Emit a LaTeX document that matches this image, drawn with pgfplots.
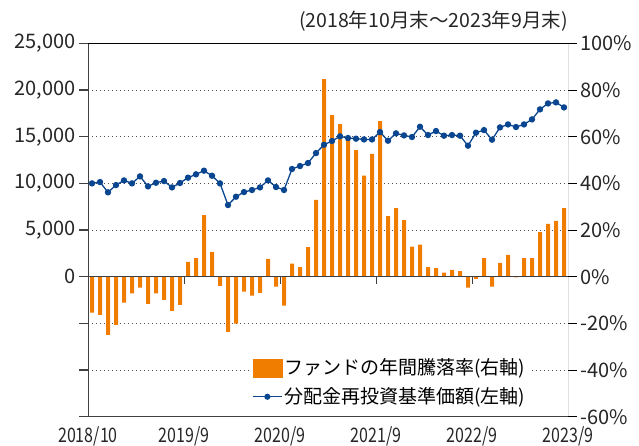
\documentclass[border=0pt]{standalone}
\usepackage{pgfplots}
\usepackage{pgfplotstable}
\pgfplotsset{compat=1.18}
\usepackage{fontspec}
\setmainfont{Noto Sans CJK JP}
\definecolor{barorange}{HTML}{F07D00}
\definecolor{lineblue}{HTML}{0A4690}
\definecolor{axgray}{HTML}{404040}
\pgfplotstableread{
i ret nav
0 -15.4 10000
1 -16.4 10140
2 -24.9 9040
3 -20.6 9820
4 -11.1 10320
5 -7.1 10000
6 -4.7 10750
7 -11.6 9680
8 -7.1 10070
9 -9.9 10250
10 -14.6 9570
11 -12.1 10040
12 6.4 10610
13 8.0 10970
14 26.4 11360
15 10.6 10820
16 -3.9 10000
17 -23.6 7680
18 -20.1 8570
19 -6.4 9070
20 -8.1 9290
21 -6.9 9570
22 7.6 10320
23 -4.3 9610
24 -12.4 9290
25 5.6 11540
26 4.1 11860
27 12.7 12180
28 32.9 13250
29 84.7 14140
30 69.3 14540
31 65.4 15040
32 58.6 14860
33 54.3 14790
34 43.3 14710
35 52.6 14710
36 66.7 15500
37 26.0 14570
38 29.4 15360
39 24.3 15140
40 12.9 14970
41 13.7 16070
42 4.1 15180
43 3.7 15610
44 1.7 15110
45 2.9 15180
46 2.4 15110
47 -4.7 14040
48 -0.9 15430
49 8.0 15710
50 -4.3 14680
51 5.9 16000
52 9.4 16320
53 -0.3 16040
54 8.0 16320
55 8.0 16860
56 19.1 17930
57 22.6 18570
58 23.9 18680
59 29.4 18140
}\data
\newcommand{\legA}{ファン\symbol{"30C9}の年間騰落率(右軸)}
\newcommand{\legB}{分配金再投資基準価額(左軸)}
\pgfplotsset{
  common/.style={
    at={(88pt,29.3pt)}, anchor=south west,
    scale only axis, width=480pt, height=373.3pt,
    xmin=-0.5, xmax=59.5,
    axis line style={draw=none},
    tick align=outside,
    major tick length=9pt,
    ticklabel style={font=\fontsize{20}{20}\selectfont, text=black!85},
    clip=true,
  }
}
\begin{document}
\begin{tikzpicture}
\useasboundingbox (0,0) rectangle (639pt,446pt);
% bars, right axis
\begin{axis}[common,
  ymin=-60, ymax=100,
  ytick={-60,-40,-20,0,20,40,60,80,100},
  yticklabels={-60\%,-40\%,-20\%,0\%,20\%,40\%,60\%,80\%,100\%},
  ytick pos=right, yticklabel pos=right,
  ytick style={black, line width=0.8pt},
  xtick={-0.5,11.5,23.5,35.5,47.5,59.5},
  xticklabels={2018/10,2019/9,2020/9,2021/9,2022/9,2023/9},
  xtick pos=bottom,
  xtick style={draw=none},
  xticklabel style={font=\fontsize{20}{20}\selectfont, xscale=0.8, yshift=3pt},
  ymajorgrids,
  grid style={black!70, line width=0.9pt, dash pattern=on 0.9pt off 3.1pt},
]
\addplot[ybar, bar width=4pt, fill=barorange, draw=none] table[x=i, y=ret]{\data};
\draw[axgray, line width=1.3pt] (axis cs:-0.5,0) -- (axis cs:59.5,0);
\draw[axgray, line width=0.9pt] (axis cs:11.5,0) -- ([yshift=-7pt]axis cs:11.5,0);
\draw[axgray, line width=0.9pt] (axis cs:23.5,0) -- ([yshift=-7pt]axis cs:23.5,0);
\draw[axgray, line width=0.9pt] (axis cs:35.5,0) -- ([yshift=-7pt]axis cs:35.5,0);
\draw[axgray, line width=0.9pt] (axis cs:47.5,0) -- ([yshift=-7pt]axis cs:47.5,0);
\end{axis}
% line, left axis
\begin{axis}[common,
  ymin=-15000, ymax=25000,
  scaled y ticks=false,
  ytick={-15000,-10000,-5000,0,5000,10000,15000,20000,25000},
  yticklabels={{},{},{},0,{5,000},{10,000},{15,000},{20,000},{25,000}},
  ytick pos=left, yticklabel pos=left,
  ytick style={axgray, line width=1.2pt},
  xtick=\empty,
  legend cell align=left,
  legend style={at={(0.3375,0.168)}, anchor=north west, draw=none, fill=white,
    font=\fontsize{19}{19}\selectfont, row sep=6pt, inner sep=2pt,
    nodes={inner sep=2pt, text depth=3pt}},
]
\addlegendimage{legend image code/.code={\fill[barorange] (0pt,-9pt) rectangle (29pt,9pt);}}
\addlegendentry{\legA}
\addplot[lineblue, line width=1.3pt, mark=*, mark size=2.5pt,
  legend image code/.code={\draw[lineblue, line width=1.3pt] (0pt,0pt) -- (29pt,0pt); \fill[lineblue] (14.5pt,0pt) circle (2.4pt);}]
  table[x=i, y=nav]{\data};
\addlegendentry{\legB}
\draw[axgray, line width=1.5pt] (rel axis cs:0,1) -- (rel axis cs:0,0) -- (rel axis cs:1,0);
\draw[black, line width=1pt] (rel axis cs:0,1) -- (rel axis cs:1,1) -- (rel axis cs:1,0);
\end{axis}
\node[anchor=east, font=\fontsize{19.5}{19.5}\selectfont, text=black!85, inner sep=0pt] at (568pt,425pt) {(2018年10月末～2023年9月末)};
\end{tikzpicture}
\end{document}
